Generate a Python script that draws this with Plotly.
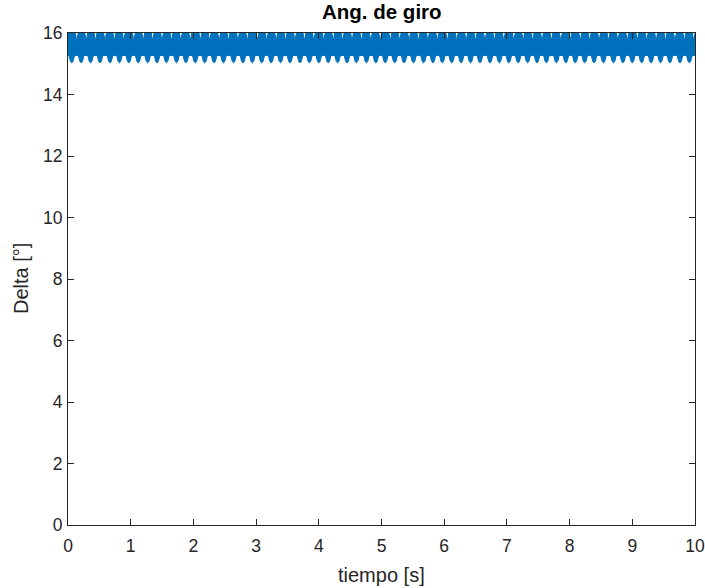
import plotly.graph_objects as go

# Envelope of the fast oscillation
lobe_times = [0.06, 0.21, 0.36, 0.51, 0.67, 0.82, 0.97, 1.12, 1.27, 1.42, 1.57, 1.73,
              1.88, 2.03, 2.18, 2.33, 2.48, 2.64, 2.79, 2.94, 3.09, 3.24, 3.39, 3.54,
              3.70, 3.85, 4.00, 4.15, 4.30, 4.45, 4.60, 4.76, 4.91, 5.06, 5.21, 5.36,
              5.51, 5.67, 5.82, 5.97, 6.12, 6.27, 6.42, 6.57, 6.73, 6.88, 7.03, 7.18,
              7.33, 7.48, 7.63, 7.79, 7.94, 8.09, 8.24, 8.39, 8.54, 8.70, 8.85, 9.00,
              9.15, 9.30, 9.45, 9.60, 9.76, 9.91]
gap_times = [0.14, 0.29, 0.44, 0.59, 0.74, 0.89, 1.05, 1.20, 1.35, 1.50, 1.65, 1.80,
             1.95, 2.11, 2.26, 2.41, 2.56, 2.71, 2.86, 3.02, 3.17, 3.32, 3.47, 3.62,
             3.77, 3.92, 4.08, 4.23, 4.38, 4.53, 4.68, 4.83, 4.98, 5.14, 5.29, 5.44,
             5.59, 5.74, 5.89, 6.05, 6.20, 6.35, 6.50, 6.65, 6.80, 6.95, 7.11, 7.26,
             7.41, 7.56, 7.71, 7.86, 8.01, 8.17, 8.32, 8.47, 8.62, 8.77, 8.92, 9.08,
             9.23, 9.38, 9.53, 9.68, 9.83, 9.98]
upper_peak = 16.0
upper_gap = 15.74
lower_peak = 15.03
lower_gap = 15.27

x_ticks = [0, 1, 2, 3, 4, 5, 6, 7, 8, 9, 10]
y_ticks = [0, 2, 4, 6, 8, 10, 12, 14, 16]

# style: widths of plateaus / notches (in seconds)
notch = 0.022
tooth = 0.02

ux, uy = [0.0], [upper_peak]
for g in gap_times:
    ux += [g - notch, g, g + notch]
    uy += [upper_peak, upper_gap, upper_peak]
ux.append(10.0); uy.append(upper_peak)

lx, ly = [0.0], [lower_gap]
for p in lobe_times:
    lx += [p - 0.045, p - tooth, p, p + tooth, p + 0.045]
    ly += [lower_gap, lower_peak + 0.04, lower_peak, lower_peak + 0.04, lower_gap]
lx.append(10.0); ly.append(lower_gap)

px = ux + lx[::-1]
py = uy + ly[::-1]

blue = "#0072BD"
ink = "#262626"
font = "Liberation Sans"

fig = go.Figure()
fig.add_trace(go.Scatter(x=px, y=py, mode="lines", fill="toself",
                         fillcolor=blue, line=dict(color=blue, width=1),
                         hoverinfo="skip", showlegend=False, cliponaxis=False))

axis_common = dict(showline=True, linecolor=ink, linewidth=1, mirror="ticks",
                   ticks="inside", ticklen=6, tickcolor=ink, showgrid=False,
                   zeroline=False, automargin=False,
                   tickfont=dict(family=font, size=17.5, color=ink))

fig.update_layout(
    width=705, height=588,
    paper_bgcolor="white", plot_bgcolor="white",
    margin=dict(l=68, r=10, t=33, b=63),
    xaxis=dict(range=[0, 10], tickvals=x_ticks, ticktext=[str(v) for v in x_ticks],
               ticklabelstandoff=5, **axis_common),
    yaxis=dict(range=[0, 16], tickvals=y_ticks, ticktext=[str(v) for v in y_ticks],
               ticklabelstandoff=1, **axis_common),
    annotations=[
        dict(text="<b>Ang. de giro</b>", xref="paper", yref="paper", x=0.5, y=(525 - 12) / 492,
             xanchor="center", yanchor="middle", showarrow=False,
             font=dict(family=font, size=20.5, color="black")),
        dict(text="tiempo [s]", xref="paper", yref="paper", x=0.5, y=(525 - 575) / 492,
             xanchor="center", yanchor="middle", showarrow=False,
             font=dict(family=font, size=20, color=ink)),
        dict(text="Delta [°]", xref="paper", yref="paper", x=(21 - 68) / 627, y=0.5,
             xanchor="center", yanchor="middle", showarrow=False, textangle=-90,
             font=dict(family=font, size=20, color=ink)),
    ],
)
fig.write_html("out.html", config={"displayModeBar": False},
               post_script="document.body.style.margin='0';document.body.style.overflow='hidden';")
